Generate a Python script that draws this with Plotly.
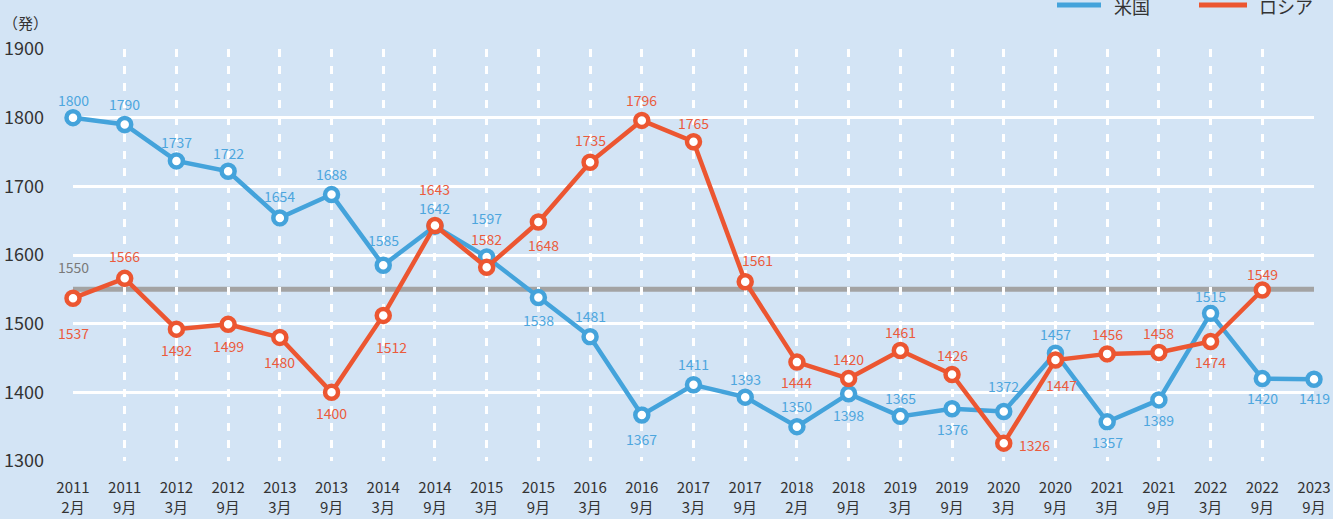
import plotly.graph_objects as go

years = ["2011", "2011", "2012", "2012", "2013", "2013", "2014", "2014", "2015", "2015",
         "2016", "2016", "2017", "2017", "2018", "2018", "2019", "2019", "2020", "2020",
         "2021", "2021", "2022", "2022", "2023"]
months = ["2月", "9月", "3月", "9月", "3月", "9月", "3月", "9月", "3月", "9月",
          "3月", "9月", "3月", "9月", "2月", "9月", "3月", "9月", "3月", "9月",
          "3月", "9月", "3月", "9月", "9月"]
us_values = [1800, 1790, 1737, 1722, 1654, 1688, 1585, 1642, 1597, 1538,
             1481, 1367, 1411, 1393, 1350, 1398, 1365, 1376, 1372, 1457,
             1357, 1389, 1515, 1420, 1419]
ru_values = [1537, 1566, 1492, 1499, 1480, 1400, 1512, 1643, 1582, 1648,
             1735, 1796, 1765, 1561, 1444, 1420, 1461, 1426, 1326, 1447,
             1456, 1458, 1474, 1549, None]
limit_value = 1550
y_ticks = [1300, 1400, 1500, 1600, 1700, 1800, 1900]

# label offsets (screen px, label centre relative to the point; +dy = down)
us_label_dy = [-18, -21, -19, -18, -22, -21, -25, -18, -39, 22,
               -21, 24, -21, -18, -21, 21, -18, 20, -26, -19,
               20, 20, -17, 19, 19]
us_label_dx = [0] * 25
ru_label_dy = [35, -22, 21, 22, 25, 21, 32, -36, -28, 23,
               -22, -20, -19, -22, 20, -20, -18, -19, 2, 25,
               -20, -20, 20, -16, 0]
ru_label_dx = [0, 0, 0, 0, 0, 0, 8, 0, 0, 5,
               0, 0, 0, 12, 0, 0, 0, 0, 31, 6,
               0, 0, 0, 0, 0]

x = list(range(len(years)))
ticktext = [f"{y}<br>{m}" for y, m in zip(years, months)]

BLUE = "#44A3DB"
RED = "#EC5631"
BLUE_TXT = "#4DA6DE"
RED_TXT = "#EB5B3C"
FONT = "Noto Sans CJK JP"

fig = go.Figure()

fig.add_shape(type="line", xref="x", yref="y", x0=0, x1=len(x) - 1, y0=limit_value, y1=limit_value,
              line=dict(color="#A3A3A3", width=5), layer="below")

fig.add_trace(go.Scatter(
    x=x, y=us_values, name="米国", mode="lines+markers", showlegend=False,
    line=dict(color=BLUE, width=4.5),
    marker=dict(size=13, color="white", line=dict(color=BLUE, width=4.5)),
    cliponaxis=False,
))
fig.add_trace(go.Scatter(
    x=x, y=ru_values, name="ロシア", mode="lines+markers", showlegend=False,
    line=dict(color=RED, width=4.5),
    marker=dict(size=13, color="white", line=dict(color=RED, width=4.5)),
    cliponaxis=False,
))

for xi, v, dx, dy in zip(x, us_values, us_label_dx, us_label_dy):
    fig.add_annotation(x=xi, y=v, xref="x", yref="y", text=str(v), showarrow=False,
                       xshift=dx, yshift=-dy, font=dict(color=BLUE_TXT, size=14, family=FONT))
for xi, v, dx, dy in zip(x, ru_values, ru_label_dx, ru_label_dy):
    if v is None:
        continue
    fig.add_annotation(x=xi, y=v, xref="x", yref="y", text=str(v), showarrow=False,
                       xshift=dx, yshift=-dy, font=dict(color=RED_TXT, size=14, family=FONT))

fig.add_annotation(x=0, y=limit_value, xref="x", yref="y", text=str(limit_value),
                   showarrow=False, yshift=22,
                   font=dict(color="#7A7A7A", size=14, family=FONT))
fig.add_annotation(x=0, y=1, xref="paper", yref="paper", text="（発）",
                   showarrow=False, xanchor="right", yanchor="middle", xshift=-23, yshift=27,
                   font=dict(color="#333333", size=15, family=FONT))

# legend (line swatch + label), placed above the plot like the reference
W, H = 1241.0, 412.0
legend_items = [("米国", BLUE, 1057, 1101, 1112), ("ロシア", RED, 1199, 1247, 1257)]
for name, col, x0, x1, xt in legend_items:
    fig.add_shape(type="line", xref="paper", yref="paper",
                  x0=(x0 - 73) / W, x1=(x1 - 73) / W, y0=(461 - 5) / H, y1=(461 - 5) / H,
                  line=dict(color=col, width=5))
    fig.add_annotation(x=(xt - 73) / W, y=(461 - 6) / H, xref="paper", yref="paper", text=name,
                       showarrow=False, xanchor="left", yanchor="middle",
                       font=dict(size=18, color="#333333", family=FONT))

fig.update_layout(
    width=1333, height=519,
    paper_bgcolor="#D3E4F5", plot_bgcolor="#D3E4F5",
    margin=dict(l=73, r=19, t=49, b=58, autoexpand=False),
    font=dict(family=FONT, color="#333333"),
    showlegend=False,
)
fig.update_xaxes(
    range=[0, len(x) - 1], tickmode="array", tickvals=x, ticktext=ticktext,
    showgrid=True, gridcolor="white", gridwidth=2.5, griddash="8px,9px",
    showline=False, zeroline=False, ticks="", ticklabelstandoff=16,
    tickfont=dict(size=15, color="#333333", family=FONT),
)
fig.update_yaxes(
    range=[1300, 1900], tickmode="array", tickvals=y_ticks,
    showgrid=True, gridcolor="white", gridwidth=2.5, zeroline=False,
    showline=False, ticks="", ticklabelstandoff=28,
    tickfont=dict(size=18, color="#333333", family=FONT),
)

fig.write_html(
    "out.html",
    config={"displayModeBar": False},
    post_script="document.body.style.margin='0';document.body.style.background='#D3E4F5';",
)
